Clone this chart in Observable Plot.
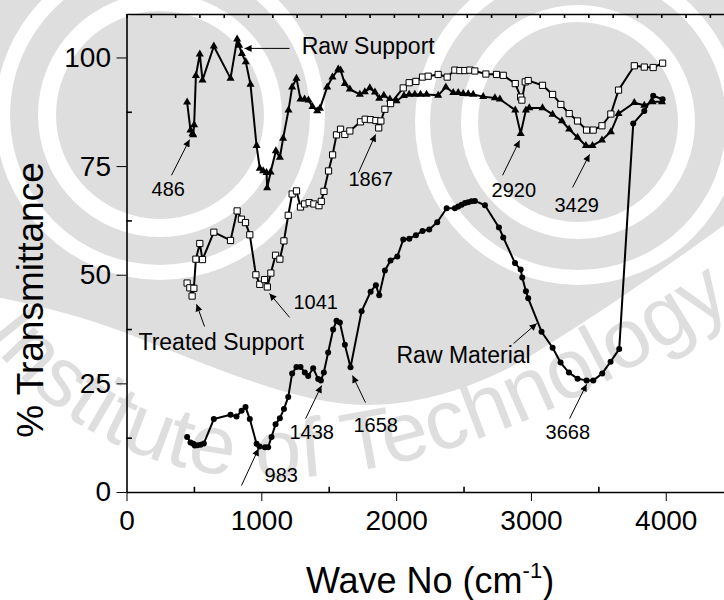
<!DOCTYPE html>
<html>
<head>
<meta charset="utf-8">
<script src="https://cdn.jsdelivr.net/npm/d3@7"></script>
<script src="https://cdn.jsdelivr.net/npm/@observablehq/plot@0.6"></script>
<style>
  body { margin: 0; background: #fff; }
  #chart svg line { stroke-width: 1.6px; }
</style>
</head>
<body>
<div id="chart"></div>
<script>
// FTIR spectra: % transmittance against wave number (cm^-1)

// Raw support (filled triangles)
const rawSupportWave = [446, 471, 486, 491, 498, 511, 540, 560, 644, 768, 817, 832, 852, 881, 916, 961, 985, 1010, 1035, 1040, 1065, 1104, 1134, 1158, 1198, 1225, 1257, 1287, 1317, 1346, 1376, 1411, 1431, 1485, 1524, 1567, 1584, 1616, 1653, 1727, 1764, 1801, 1839, 1871, 1905, 1950, 1999, 2054, 2093, 2135, 2177, 2222, 2308, 2365, 2420, 2457, 2494, 2531, 2568, 2642, 2729, 2766, 2880, 2920, 2959, 2984, 3082, 3157, 3226, 3280, 3342, 3404, 3453, 3523, 3589, 3646, 3763, 3837, 3899, 3968];
const rawSupportT = [89.8, 83.4, 82.6, 82.3, 84.6, 95.9, 100.9, 94.9, 102.7, 95.3, 104.3, 102.9, 101.0, 99.1, 93.9, 79.8, 74.6, 74.0, 73.6, 70.1, 73.7, 78.6, 77.1, 81.5, 88.0, 93.3, 95.3, 90.5, 90.5, 90.3, 88.8, 87.8, 88.4, 93.3, 95.6, 97.4, 97.2, 94.1, 92.8, 91.6, 92.2, 93.1, 92.1, 90.7, 91.4, 90.5, 90.1, 91.3, 91.6, 91.6, 91.6, 91.6, 91.4, 93.3, 92.0, 92.0, 91.8, 91.7, 91.6, 91.1, 90.8, 90.5, 88.0, 82.6, 88.0, 88.5, 88.5, 87.0, 85.5, 83.6, 81.7, 79.8, 79.8, 81.1, 83.0, 87.2, 89.7, 89.1, 89.9, 89.9];

// Treated support (open squares)
const treatedWave = [446, 466, 483, 496, 511, 540, 560, 644, 768, 817, 849, 879, 911, 956, 985, 1020, 1041, 1067, 1102, 1134, 1164, 1196, 1225, 1257, 1287, 1317, 1351, 1386, 1424, 1441, 1461, 1495, 1525, 1554, 1584, 1616, 1653, 1732, 1767, 1806, 1846, 1867, 1883, 1913, 1955, 2049, 2093, 2143, 2192, 2234, 2308, 2375, 2432, 2469, 2506, 2543, 2580, 2662, 2741, 2791, 2880, 2920, 2929, 2954, 2976, 3082, 3157, 3218, 3280, 3342, 3409, 3458, 3523, 3589, 3646, 3763, 3837, 3903, 3973];
const treatedT = [48.2, 47.1, 45.2, 47.0, 53.7, 57.3, 53.6, 59.9, 58.0, 64.8, 62.9, 62.1, 59.3, 50.1, 47.9, 49.0, 47.3, 50.5, 54.6, 53.7, 57.9, 63.8, 68.7, 69.4, 65.7, 66.4, 66.7, 66.4, 66.0, 67.0, 69.3, 74.0, 77.7, 82.3, 83.6, 82.4, 83.2, 85.3, 85.9, 85.8, 85.6, 83.9, 85.5, 88.2, 89.5, 93.1, 94.3, 94.6, 95.6, 95.8, 96.2, 95.6, 97.2, 97.1, 97.1, 97.2, 97.0, 96.3, 96.2, 96.0, 94.1, 91.0, 90.3, 94.5, 94.8, 93.7, 91.6, 89.3, 87.2, 85.5, 83.4, 83.4, 84.4, 87.1, 92.6, 98.2, 97.9, 97.8, 98.8];

// Raw material (filled circles)
const rawMaterialWave = [446, 471, 491, 503, 521, 545, 570, 644, 768, 812, 850, 879, 911, 961, 983, 1023, 1047, 1072, 1102, 1134, 1164, 1196, 1225, 1257, 1287, 1319, 1344, 1381, 1418, 1438, 1460, 1492, 1529, 1554, 1579, 1616, 1658, 1740, 1807, 1846, 1871, 1913, 1955, 2005, 2049, 2094, 2143, 2192, 2242, 2301, 2371, 2432, 2457, 2482, 2507, 2531, 2556, 2581, 2655, 2759, 2791, 2878, 2920, 2932, 2959, 2976, 3075, 3157, 3216, 3278, 3342, 3409, 3459, 3525, 3587, 3651, 3755, 3837, 3903, 3973];
const rawMaterialT = [12.8, 11.5, 11.2, 10.8, 10.9, 11.0, 11.3, 16.9, 17.9, 17.5, 18.8, 19.7, 16.9, 11.2, 10.6, 10.4, 10.4, 12.8, 15.7, 17.1, 19.2, 22.0, 27.4, 28.9, 28.9, 27.6, 26.8, 28.6, 26.1, 25.8, 27.6, 32.2, 37.5, 39.5, 39.1, 34.0, 28.8, 41.7, 46.2, 47.7, 45.4, 51.1, 53.4, 54.3, 58.2, 58.4, 59.2, 60.2, 60.5, 62.2, 65.4, 65.4, 65.8, 66.2, 66.6, 66.8, 67.0, 67.1, 66.1, 61.0, 58.7, 52.8, 51.3, 49.5, 46.3, 44.7, 37.0, 33.3, 29.9, 27.6, 26.2, 25.8, 25.8, 27.4, 30.1, 33.0, 84.9, 87.8, 91.3, 90.5];

// Axis ticks
const xTicks = [0, 1000, 2000, 3000, 4000];
const xMinorTicks = [500, 1500, 2500, 3500];
const yTicks = [0, 25, 50, 75, 100];
const yMinorTicks = [12.5, 37.5, 62.5, 87.5];
const topTickStep = 180.3;

// Callout labels and their arrows (label anchor, then arrow tail -> head)
const calloutText = ["Raw Support", "486", "1867", "2920", "3429", "1041", "Treated Support", "Raw Material", "1438", "1658", "3668", "983"];
const calloutLabelX = [1296, 182, 1643, 2704, 3171, 1235, 85, 1999, 1205, 1680, 3105, 1020];
const calloutLabelY = [102.7, 69.6, 71.9, 69.4, 66.1, 43.8, 34.4, 31.4, 13.7, 15.3, 13.9, 3.8];
const arrowX1 = [1206, 330, 1717, 2786, 3305, 1206, 575, 2868, 1325, 1769, 3283, 849];
const arrowY1 = [102.2, 73.0, 73.6, 73.0, 70.2, 40.3, 38.2, 34.3, 17.0, 20.7, 17.0, 1.6];
const arrowX2 = [872, 464, 1844, 2912, 3431, 1057, 516, 3039, 1443, 1673, 3409, 976];
const arrowY2 = [102.2, 81.2, 82.4, 81.0, 77.8, 45.8, 43.3, 38.9, 24.6, 26.9, 24.9, 10.1];

const toRows = (w, t) => w.map((x, i) => ({wave: x, t: t[i]}));
const rawSupport = toRows(rawSupportWave, rawSupportT);
const treated = toRows(treatedWave, treatedT);
const rawMaterial = toRows(rawMaterialWave, rawMaterialT);
const callouts = calloutText.map((s, i) => ({
  text: s, lx: calloutLabelX[i], ly: calloutLabelY[i],
  x1: arrowX1[i], y1: arrowY1[i], x2: arrowX2[i], y2: arrowY2[i],
  name: /[A-Za-z]/.test(s)
}));

const xMax = 4432, yMax = 110;
const topTicks = d3.range(0, xMax, topTickStep);

const chart = Plot.plot({
  width: 724,
  height: 600,
  marginLeft: 126.5,
  marginRight: 0,
  marginTop: 14,
  marginBottom: 108,
  style: {
    fontFamily: "'Liberation Sans', Arial, sans-serif",
    fontSize: "28px",
    color: "black",
    background: "transparent",
    overflow: "visible"
  },
  x: {domain: [0, xMax], ticks: xTicks, tickSize: 9, tickPadding: 9, tickFormat: d => String(d), label: null},
  y: {domain: [0, yMax], ticks: yTicks, tickSize: 10, tickPadding: 6, tickFormat: d => String(d), label: null},
  marks: [
    // frame lines and inner ticks
    Plot.ruleY([0, yMax], {stroke: "black"}),
    Plot.ruleX([0], {stroke: "black"}),
    Plot.ruleX(xMinorTicks, {x: d => d, y1: 0, y2: 1.2, stroke: "black"}),
    Plot.ruleX(topTicks, {x: d => d, y1: yMax, y2: yMax - 0.9, stroke: "black"}),
    Plot.ruleY(yMinorTicks, {y: d => d, x1: 0, x2: 40, stroke: "black"}),

    // spectra
    Plot.line(rawSupport, {x: "wave", y: "t", stroke: "black", strokeWidth: 2}),
    Plot.dot(rawSupport, {x: "wave", y: "t", symbol: "triangle", r: 3, fill: "black"}),
    Plot.line(treated, {x: "wave", y: "t", stroke: "black", strokeWidth: 2}),
    Plot.dot(treated, {x: "wave", y: "t", symbol: "square", r: 3.5, fill: "white", stroke: "black", strokeWidth: 1}),
    Plot.line(rawMaterial, {x: "wave", y: "t", stroke: "black", strokeWidth: 2}),
    Plot.dot(rawMaterial, {x: "wave", y: "t", r: 3, fill: "black"}),

    // callouts
    Plot.link(callouts, {x1: "x1", y1: "y1", x2: "x2", y2: "y2", stroke: "black", strokeWidth: 1}),
    Plot.text(callouts.filter(d => !d.name), {x: "lx", y: "ly", text: "text", textAnchor: "start", fontSize: 20, fill: "black"}),
    Plot.text(callouts.filter(d => d.name), {x: "lx", y: "ly", text: "text", textAnchor: "start", fontSize: 23, fill: "black"})
  ]
});

const svg = d3.select(chart);

// filled arrowheads on the callout links
const defs = svg.insert("defs", ":first-child");
defs.append("marker")
  .attr("id", "callout-head")
  .attr("viewBox", "0 0 10 10")
  .attr("refX", 10).attr("refY", 5)
  .attr("markerWidth", 10).attr("markerHeight", 7)
  .attr("markerUnits", "userSpaceOnUse")
  .attr("orient", "auto")
  .append("path").attr("d", "M0,0L10,5L0,10Z").attr("fill", "black");
svg.selectAll('g[aria-label="link"] path').attr("marker-end", "url(#callout-head)");

// faint emblem behind the plot: a grey field with two ringed discs and a lettered arc
const grey = "#dedede";
const wm = svg.insert("g", "defs + *").attr("stroke", "none");
wm.append("path").attr("fill", grey)
  .attr("d", "M-10,-10 H734 V218 C690,250 620,300 540,350 C480,388 420,405 366,405 C300,405 220,370 126,333 C80,316 30,303 -10,296 Z");
const ringed = (cx, cy, radii) => radii.forEach((r, i) =>
  wm.append("circle").attr("cx", cx).attr("cy", cy).attr("r", r).attr("fill", i % 2 ? grey : "#fff"));
ringed(160, 115, [165, 150, 122, 104]);
ringed(578, 122, [163, 148, 117, 100]);
wm.append("path").attr("id", "emblem-arc").attr("fill", "none")
  .attr("d", "M-100,230 L-20,330 C150,560 450,500 740,300");
wm.append("text")
  .attr("fill", grey)
  .attr("text-anchor", "start")
  .attr("font-family", "'Liberation Sans', Arial, sans-serif")
  .attr("font-size", 84)
  .append("textPath")
  .attr("href", "#emblem-arc")
  .attr("startOffset", 134)
  .text("Institute of Technology");

// axis titles
svg.append("text")
  .attr("x", 430).attr("y", 593)
  .attr("text-anchor", "middle")
  .attr("font-size", 36)
  .attr("fill", "black")
  .call(t => {
    t.append("tspan").text("Wave No (cm");
    t.append("tspan").attr("font-size", 22).attr("dy", -15).text("-1");
    t.append("tspan").attr("dy", 15).text(")");
  });
svg.append("text")
  .attr("transform", "translate(43,300) rotate(-90)")
  .attr("text-anchor", "middle")
  .attr("font-size", 37)
  .attr("fill", "black")
  .text("% Transmittance");

document.getElementById("chart").append(chart);
</script>
</body>
</html>
